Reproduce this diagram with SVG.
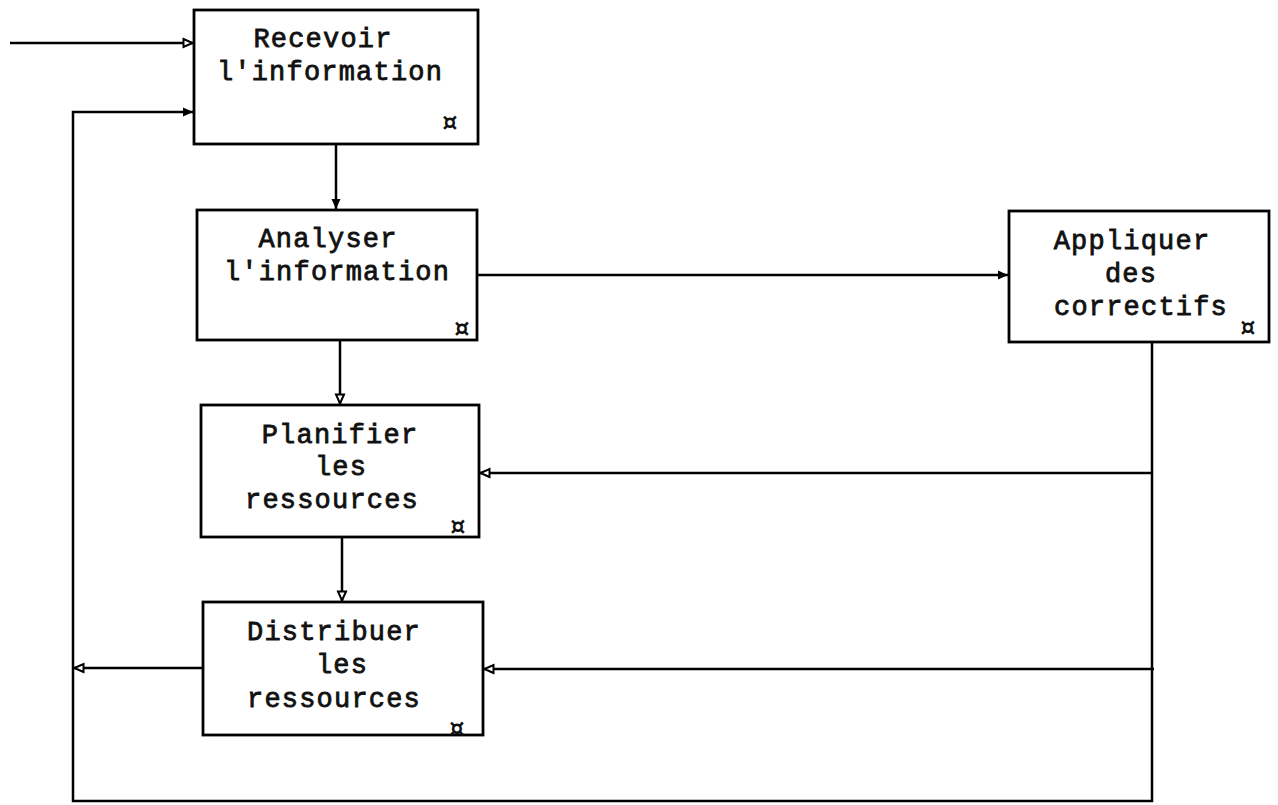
<svg xmlns="http://www.w3.org/2000/svg" width="1278" height="805" viewBox="0 0 1278 805">
<style>
.box{fill:#fff;stroke:#000;stroke-width:2.8}
.t{font-family:"Liberation Mono","Courier New",monospace;font-size:27px;font-weight:normal;letter-spacing:1.2px;fill:#111;stroke:#111;stroke-width:0.8px;text-anchor:middle}
.s{font-family:"DejaVu Sans","Liberation Sans",sans-serif;font-size:24px;font-weight:bold;fill:#111;text-anchor:middle}
.c{fill:none;stroke:#000;stroke-width:2.5}
</style>
<defs>
<marker id="ah" markerWidth="12" markerHeight="12" refX="11" refY="6" orient="auto" markerUnits="userSpaceOnUse">
<path d="M1,1.5 L11,6 L1,10.5 Z" fill="#000"/>
</marker>
<marker id="ao" markerWidth="12" markerHeight="12" refX="11" refY="6" orient="auto" markerUnits="userSpaceOnUse">
<path d="M1.5,2 L10.5,6 L1.5,10 Z" fill="#fff" stroke="#000" stroke-width="2"/>
</marker>
</defs>
<rect width="1278" height="805" fill="#fff"/>
<g id="connectors">
<path class="c" d="M10,43 H193" marker-end="url(#ao)"/>
<path class="c" d="M1152,342 V801 H73 V112 H193" marker-end="url(#ah)"/>
<path class="c" d="M1152,473 H480" marker-end="url(#ao)"/>
<path class="c" d="M1154,669 H484" marker-end="url(#ao)"/>
<path class="c" d="M203,668 H74" marker-end="url(#ao)"/>
<path class="c" d="M336,144 V209" marker-end="url(#ah)"/>
<path class="c" d="M340,340 V404" marker-end="url(#ao)"/>
<path class="c" d="M342,537 V601" marker-end="url(#ao)"/>
<path class="c" d="M477,275 H1008" marker-end="url(#ah)"/>
</g>
<g id="recevoir">
<rect class="box" x="194" y="10" width="284" height="134"/>
<text class="t" x="323" y="47">Recevoir</text>
<text class="t" x="330" y="80">l'information</text>
<text class="s" x="450" y="131">¤</text>
</g>
<g id="analyser">
<rect class="box" x="197" y="210" width="280" height="130"/>
<text class="t" x="328" y="247">Analyser</text>
<text class="t" x="337" y="280">l'information</text>
<text class="s" x="462" y="337">¤</text>
</g>
<g id="appliquer">
<rect class="box" x="1009" y="211" width="260" height="131"/>
<text class="t" x="1132" y="249">Appliquer</text>
<text class="t" x="1131" y="282">des</text>
<text class="t" x="1141" y="315">correctifs</text>
<text class="s" x="1248" y="336">¤</text>
</g>
<g id="planifier">
<rect class="box" x="201" y="405" width="278" height="132"/>
<text class="t" x="340" y="443">Planifier</text>
<text class="t" x="341" y="475">les</text>
<text class="t" x="332" y="508">ressources</text>
<text class="s" x="458" y="535">¤</text>
</g>
<g id="distribuer">
<rect class="box" x="203" y="602" width="280" height="133"/>
<text class="t" x="334" y="640">Distribuer</text>
<text class="t" x="342" y="673">les</text>
<text class="t" x="334" y="707">ressources</text>
<text class="s" x="457" y="737">¤</text>
</g>
</svg>
